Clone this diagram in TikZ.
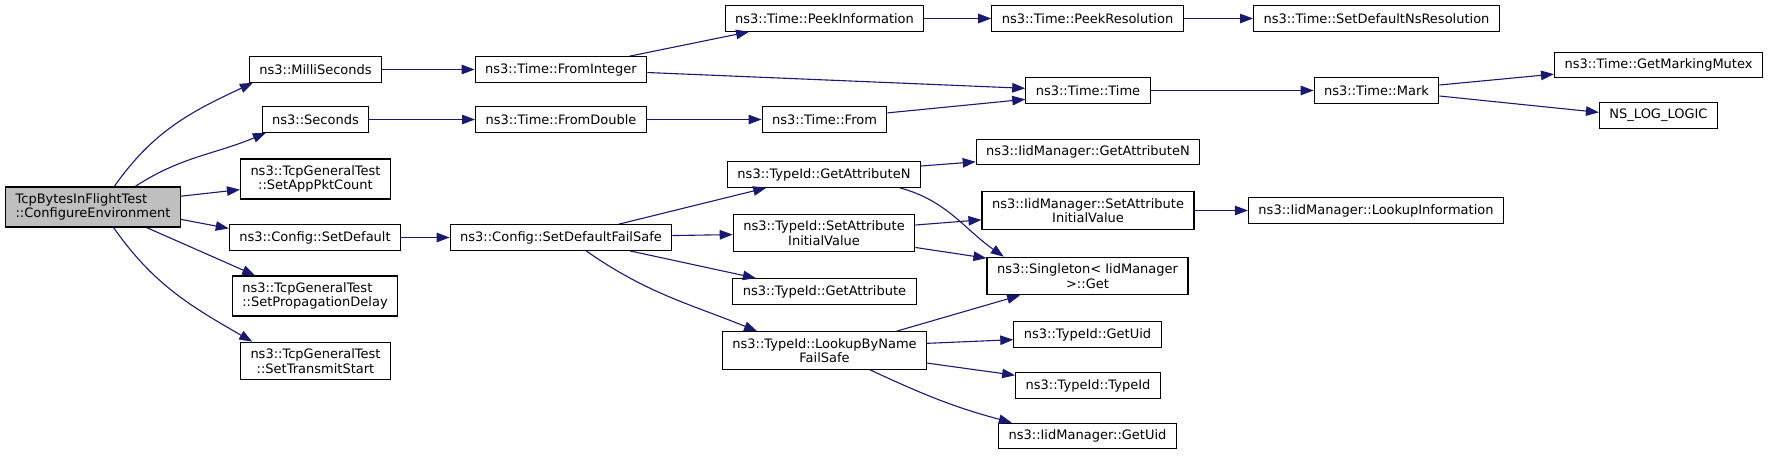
\documentclass[tikz,border=0pt]{standalone}
\usepackage{fontspec}
\setmainfont{DejaVu Sans}
\usepackage{xcolor}
\definecolor{calledge}{HTML}{191970}
\definecolor{rootfill}{HTML}{BFBFBF}
\usepackage{tikz}
\usetikzlibrary{arrows.meta}

\begin{document}
\begin{tikzpicture}[
  x=1pt, y=1pt,
  font=\fontsize{13}{14.5}\selectfont,
  fn/.style={draw=black, fill=white, line width=1.1pt, inner xsep=10pt,
             inner ysep=6.5pt, minimum height=25.5pt, align=center},
  call/.style={calledge, line width=1.1pt,
               -{Triangle[length=13pt, width=9.5pt]}}
]
  \useasboundingbox (0,0) rectangle (1769,-455);

  \node[fn, fill=rootfill, align=left] (root) at (93,-207)
    {TcpBytesInFlightTest\\::ConfigureEnvironment};

  \node[fn] (milli) at (315.5,-69.5) {ns3::MilliSeconds};
  \node[fn] (secs) at (315.5,-119.5) {ns3::Seconds};
  \node[fn] (pktcount) at (315.5,-179) {ns3::TcpGeneralTest\\::SetAppPktCount};
  \node[fn] (setdef) at (315,-237.5) {ns3::Config::SetDefault};
  \node[fn, align=left] (propdelay) at (315,-296)
    {ns3::TcpGeneralTest\\::SetPropagationDelay};
  \node[fn] (txstart) at (315.5,-361) {ns3::TcpGeneralTest\\::SetTransmitStart};

  \node[fn] (fromint) at (561,-69.5) {ns3::Time::FromInteger};
  \node[fn] (fromdbl) at (561,-119.5) {ns3::Time::FromDouble};
  \node[fn] (failsafe) at (561,-237.5) {ns3::Config::SetDefaultFailSafe};

  \node[fn] (peekinfo) at (824.5,-18.5) {ns3::Time::PeekInformation};
  \node[fn] (timefrom) at (824.5,-119.5) {ns3::Time::From};
  \node[fn] (tgetattrn) at (824,-174.5) {ns3::TypeId::GetAttributeN};
  \node[fn] (tsetinit) at (824,-233) {ns3::TypeId::SetAttribute\\InitialValue};
  \node[fn] (tgetattr) at (824.5,-291.5) {ns3::TypeId::GetAttribute};
  \node[fn] (lookup) at (824.5,-350.5) {ns3::TypeId::LookupByName\\FailSafe};

  \node[fn] (peekres) at (1087.5,-18.5) {ns3::Time::PeekResolution};
  \node[fn] (timetime) at (1088,-90.5) {ns3::Time::Time};
  \node[fn] (igetattrn) at (1088,-152) {ns3::IidManager::GetAttributeN};
  \node[fn] (isetinit) at (1088,-210.5) {ns3::IidManager::SetAttribute\\InitialValue};
  \node[fn] (singleton) at (1087.5,-276) {ns3::Singleton< IidManager\\>::Get};
  \node[fn] (tgetuid) at (1087.5,-334.5) {ns3::TypeId::GetUid};
  \node[fn] (typeid) at (1088,-385.5) {ns3::TypeId::TypeId};
  \node[fn] (igetuid) at (1087.5,-436) {ns3::IidManager::GetUid};

  \node[fn] (nsres) at (1376.5,-18.5) {ns3::Time::SetDefaultNsResolution};
  \node[fn] (mark) at (1376.5,-90.5) {ns3::Time::Mark};
  \node[fn] (lookinfo) at (1376,-210.5) {ns3::IidManager::LookupInformation};

  \node[fn] (mutex) at (1658.5,-65) {ns3::Time::GetMarkingMutex};
  \node[fn] (nslog) at (1658.5,-115.5) {NS\_LOG\_LOGIC};

  \draw[call] (root.44) to[out=55, in=205] (milli.192);
  \draw[call] (root.26) to[out=33, in=203] (secs.195);
  \draw[call] (root.7) -- (pktcount.188);
  \draw[call] (root.-8) -- (setdef.174);
  \draw[call] (root.-21) -- (propdelay.161);
  \draw[call] (root.-45) to[out=-55, in=150] (txstart.163);

  \draw[call] (milli) -- (fromint);
  \draw[call] (secs) -- (fromdbl);
  \draw[call] (setdef) -- (failsafe);

  \draw[call] (fromint.11) -- (peekinfo.190);
  \draw[call] (fromint.-2) -- (timetime.178);
  \draw[call] (fromdbl) -- (timefrom);
  \draw[call] (timefrom.6) -- (timetime.188);
  \draw[call] (peekinfo) -- (peekres);
  \draw[call] (peekres) -- (nsres);
  \draw[call] (timetime) -- (mark);
  \draw[call] (mark.5) -- (mutex.185);
  \draw[call] (mark.-5) -- (nslog.177);

  \draw[call] (failsafe.13) -- (tgetattrn.193);
  \draw[call] (failsafe.1) -- (tsetinit.181);
  \draw[call] (failsafe.-11) -- (tgetattr.169);
  \draw[call] (failsafe.-28) to[out=-35, in=158] (lookup.164);

  \draw[call] (tgetattrn.5) -- (igetattrn.185);
  \draw[call] (tgetattrn.-10) to[out=-15, in=145] (singleton.167);
  \draw[call] (tsetinit.5) -- (isetinit.185);
  \draw[call] (tsetinit.-9) -- (singleton.170);
  \draw[call] (isetinit) -- (lookinfo);
  \draw[call] (lookup.15) -- (singleton.196);
  \draw[call] (lookup.4) -- (tgetuid.184);
  \draw[call] (lookup.-7) -- (typeid.172);
  \draw[call] (lookup.-23) to[out=-25, in=165] (igetuid.170);
\end{tikzpicture}
\end{document}
